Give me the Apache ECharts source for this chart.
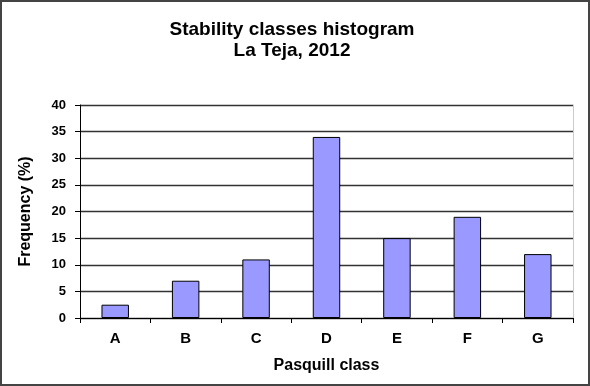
<!DOCTYPE html>
<html>
<head>
<meta charset="utf-8">
<script src="https://cdn.jsdelivr.net/npm/echarts@6/dist/echarts.min.js"></script>
<style>
html, body { margin: 0; padding: 0; background: #fff; }
#wrap { position: relative; width: 590px; height: 386px; }
#main { width: 590px; height: 386px; }
#frame { position: absolute; left: 0; top: 0; width: 590px; height: 386px; box-sizing: border-box; border: 2px solid #444; pointer-events: none; }
</style>
</head>
<body>
<div id="wrap">
  <div id="main"></div>
  <div id="frame"></div>
</div>
<script>
var classes = ['A', 'B', 'C', 'D', 'E', 'F', 'G'];
var frequency = [2.5, 7, 11, 34, 15, 19, 12];

var myChart = echarts.init(document.getElementById('main'));
var font = 'Liberation Sans, Arial, sans-serif';

var option = {
    animation: false,
    title: {
        text: 'Stability classes histogram\nLa Teja, 2012',
        left: 287,
        top: 14,
        textAlign: 'center',
        textStyle: {
            fontFamily: font,
            fontWeight: 'bold',
            fontSize: 19,
            lineHeight: 21,
            color: '#000'
        }
    },
    grid: {
        left: 80,
        right: 17,
        top: 105,
        bottom: 68
    },
    xAxis: {
        type: 'category',
        data: classes,
        name: 'Pasquill class',
        nameLocation: 'middle',
        nameGap: 40,
        nameTextStyle: {fontFamily: font, fontWeight: 'bold', fontSize: 16, color: '#000'},
        axisLine: {lineStyle: {color: '#000', width: 1}},
        axisTick: {show: true, length: 5, lineStyle: {color: '#000'}},
        axisLabel: {fontFamily: font, fontWeight: 'bold', fontSize: 15, color: '#000', margin: 13}
    },
    yAxis: [{
        type: 'value',
        min: 0,
        max: 40,
        interval: 5,
        name: 'Frequency (%)',
        nameLocation: 'middle',
        nameGap: 46,
        nameTextStyle: {fontFamily: font, fontWeight: 'bold', fontSize: 16, color: '#000'},
        axisLine: {show: true, lineStyle: {color: '#000', width: 1}},
        axisTick: {show: true, length: 5, lineStyle: {color: '#000'}},
        axisLabel: {fontFamily: font, fontWeight: 'bold', fontSize: 13, color: '#000', margin: 14},
        splitLine: {lineStyle: {color: '#333', width: 1.3}}
    }, {
        type: 'value',
        min: 0,
        max: 40,
        interval: 5,
        position: 'right',
        axisLine: {show: true, lineStyle: {color: '#ccc', width: 1}},
        axisTick: {show: false},
        axisLabel: {show: false},
        splitLine: {show: false}
    }],
    series: [{
        type: 'bar',
        data: frequency,
        barWidth: '39%',
        itemStyle: {color: '#9999ff', borderColor: '#000', borderWidth: 1}
    }]
};
myChart.setOption(option);
</script>
</body>
</html>
